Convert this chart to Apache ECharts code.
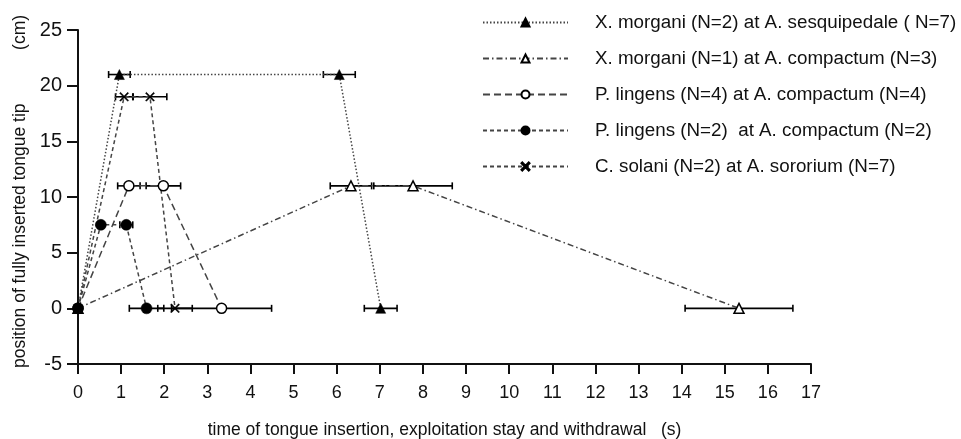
<!DOCTYPE html>
<html>
<head>
<meta charset="utf-8">
<script src="https://cdn.jsdelivr.net/npm/echarts@6/dist/echarts.min.js"></script>
<style>
html, body { margin: 0; padding: 0; background: #fff; }
#main { width: 961px; height: 439px; }
</style>
</head>
<body>
<div id="main"></div>
<script>
// series names (legend)
var names = [
    "X. morgani (N=2) at A. sesquipedale ( N=7)",
    "X. morgani (N=1) at A. compactum (N=3)",
    "P. lingens (N=4) at A. compactum (N=4)",
    "P. lingens (N=2)  at A. compactum (N=2)",
    "C. solani (N=2) at A. sororium (N=7)",
];

// time (s), position (cm), +/- error on time
var sesqX = [0, 0.96, 6.06, 7.02];
var sesqY = [0, 21, 21, 0];
var sesqErr = [0, 0.25, 0.37, 0.38];

var compX = [0, 6.33, 7.77, 15.33];
var compY = [0, 11, 11, 0];
var compErr = [0, 0.48, 0.91, 1.25];

var ling4X = [0, 1.18, 1.98, 3.33];
var ling4Y = [0, 11, 11, 0];
var ling4Err = [0, 0.26, 0.4, 1.16];

var ling2X = [0, 0.53, 1.12, 1.59];
var ling2Y = [0, 7.5, 7.5, 0];
var ling2Err = [0, 0.05, 0.15, 0.4];

var solX = [0, 1.07, 1.67, 2.25];
var solY = [0, 19, 19, 0];
var solErr = [0, 0.2, 0.39, 0.4];

var chartDom = document.getElementById("main");
var myChart = echarts.init(chartDom);
var font = "Liberation Sans";
var crossPath = "path://M0,1L1,0L5,4L9,0L10,1L6,5L10,9L9,10L5,6L1,10L0,9L4,5Z";

var groups = [
    { x: sesqX, y: sesqY, e: sesqErr, symbol: "triangle", fill: "#000", dash: [1.5, 2], size: 10 },
    { x: compX, y: compY, e: compErr, symbol: "triangle", fill: "#fff", dash: [6, 3, 1.5, 3], size: 10 },
    { x: ling4X, y: ling4Y, e: ling4Err, symbol: "circle", fill: "#fff", dash: [7, 4], size: 10 },
    { x: ling2X, y: ling2Y, e: ling2Err, symbol: "circle", fill: "#000", dash: [4, 3], size: 11 },
    { x: solX, y: solY, e: solErr, symbol: crossPath, fill: "#000", dash: [4, 3], size: 9 },
];

function toPairs(xs, ys) {
    var out = [];
    xs.forEach(function (v, i) {
        out.push([v, ys[i]]);
    });
    return out;
}

var series = [];
var errData = [];
groups.forEach(function (g, idx) {
    series.push({
        name: names[idx],
        type: "line",
        data: toPairs(g.x, g.y),
        symbol: g.symbol,
        symbolSize: g.size,
        showSymbol: true,
        z: 3,
        lineStyle: { color: "#444", width: 1.5, type: g.dash },
        itemStyle: {
            color: g.fill,
            borderColor: "#000",
            borderWidth: g.fill === "#fff" ? 1.5 : 0.5,
        },
        emphasis: { disabled: true },
    });
    g.x.forEach(function (v, i) {
        if (g.e[i] > 0) errData.push([v, g.y[i], v - g.e[i], v + g.e[i]]);
    });
});

// horizontal error bars with caps
series.push({
    type: "custom",
    name: "err",
    z: 2,
    data: errData,
    renderItem: function (params, api) {
        var y = api.value(1);
        var a = api.coord([api.value(2), y]);
        var b = api.coord([api.value(3), y]);
        var st = { stroke: "#000", lineWidth: 1.6 };
        return {
            type: "group",
            children: [
                { type: "line", shape: { x1: a[0], y1: a[1], x2: b[0], y2: b[1] }, style: st },
                { type: "line", shape: { x1: a[0], y1: a[1] - 3.5, x2: a[0], y2: a[1] + 3.5 }, style: st },
                { type: "line", shape: { x1: b[0], y1: b[1] - 3.5, x2: b[0], y2: b[1] + 3.5 }, style: st },
            ],
        };
    },
});

var option = {
    backgroundColor: "#fff",
    animation: false,
    textStyle: { fontFamily: font },
    grid: { left: 78, right: 150, top: 30, bottom: 75, containLabel: false, outerBoundsMode: "none" },
    legend: {
        data: names,
        orient: "vertical",
        left: 477,
        top: 8,
        itemWidth: 85,
        itemHeight: 10,
        itemGap: 17,
        textStyle: { fontFamily: font, fontSize: 18.8, color: "#111", padding: [0, 0, 0, 22] },
    },
    xAxis: {
        type: "value",
        min: 0,
        max: 17,
        interval: 1,
        name: "time of tongue insertion, exploitation stay and withdrawal   (s)",
        nameLocation: "middle",
        nameGap: 57,
        nameTextStyle: { fontFamily: font, fontSize: 17.5, color: "#111" },
        splitLine: { show: false },
        axisLine: { onZero: false, lineStyle: { color: "#111", width: 2 } },
        axisTick: { length: 10, lineStyle: { color: "#111", width: 2 } },
        axisLabel: { fontFamily: font, fontSize: 18, color: "#111", margin: 20 },
    },
    yAxis: {
        type: "value",
        min: -5,
        max: 25,
        interval: 5,
        name: "position of fully inserted tongue tip           (cm)",
        nameLocation: "middle",
        nameRotate: 90,
        nameGap: 46,
        nameTextStyle: { fontFamily: font, fontSize: 17.5, color: "#111", padding: [0, 0, 0, 11] },
        splitLine: { show: false },
        axisLine: { onZero: false, lineStyle: { color: "#111", width: 2 } },
        axisTick: { length: 11, lineStyle: { color: "#111", width: 2 } },
        axisLabel: { fontFamily: font, fontSize: 20, color: "#111", margin: 16 },
    },
    series: series,
};

option && myChart.setOption(option, true);
</script>
</body>
</html>
